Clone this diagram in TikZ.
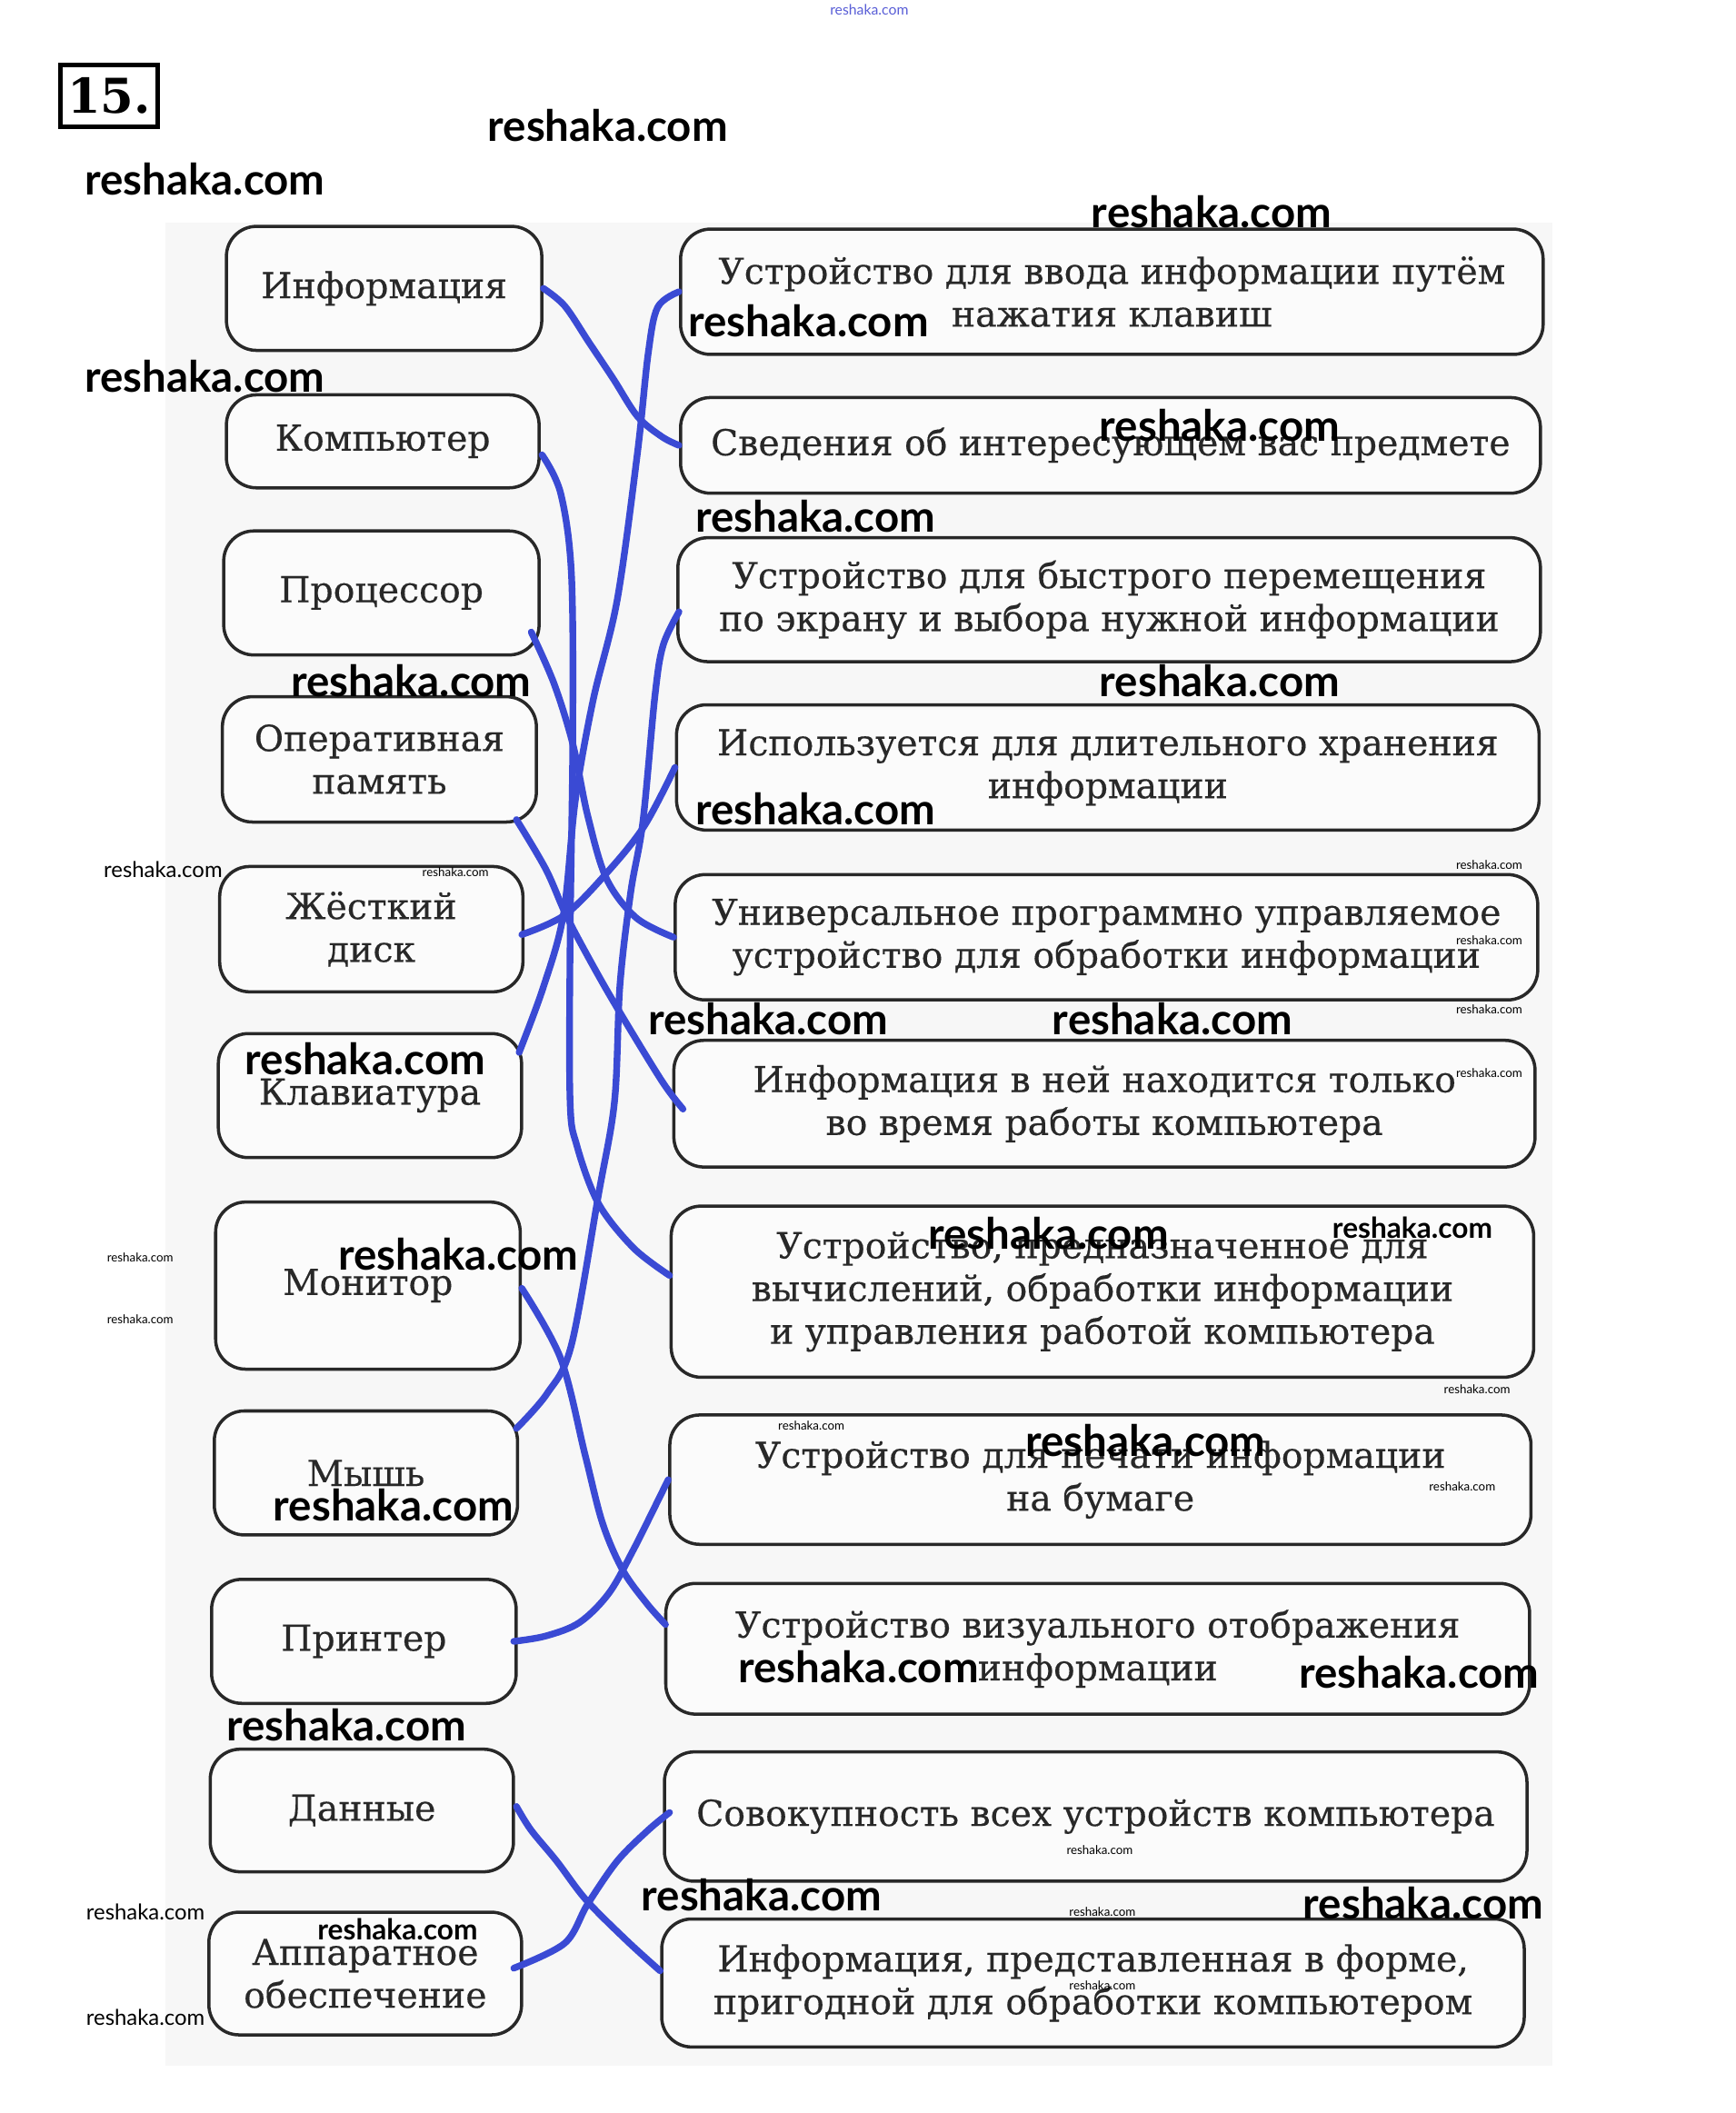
\documentclass[tikz,border=0pt]{standalone}
\usepackage{fontspec}
\setmainfont{DejaVu Serif}
\newfontfamily\cardfont{DejaVu Serif}[FakeBold=0.35]
\newfontfamily\wmfont{Lato}
\usetikzlibrary{calc}
\definecolor{pen}{RGB}{58,74,212}
\definecolor{ink}{RGB}{40,40,40}
\definecolor{paper}{RGB}{247,247,247}
\definecolor{cardfill}{RGB}{251,251,251}
\definecolor{wmblue}{RGB}{90,95,215}
\newdimen\pu \pu=0.014829cm
\tikzset{
  card/.style={rectangle, draw=ink, fill=cardfill, rounded corners=0.33cm,
    line width=1pt, align=center, text=ink, inner sep=0pt,
    font=\cardfont\fontsize{11.2}{13.4}\selectfont},
  link/.style={color=pen, line width=2.1pt, line cap=round, line join=round},
  wmbig/.style={font=\wmfont\bfseries\fontsize{13.5}{14}\selectfont, inner sep=0pt},
  wmmid/.style={font=\wmfont\bfseries\fontsize{9}{10}\selectfont, inner sep=0pt},
  wmsmall/.style={font=\wmfont\fontsize{6.8}{7}\selectfont, inner sep=0pt},
  wmtiny/.style={font=\wmfont\fontsize{3.8}{4}\selectfont, inner sep=0pt}
}
\begin{document}
\begin{tikzpicture}[x=0.014829cm, y=-0.014829cm]
  \useasboundingbox (0,0) rectangle (1288,1568);
  % Page
  \fill[white] (0,0) rectangle (1288,1568);
  \fill[paper] (123,165) rectangle (1152,1533);
  % Task number
  \node[draw=black, line width=1.4pt, minimum width=72\pu, minimum height=46\pu,
    inner sep=0pt, font=\bfseries\fontsize{15}{16}\selectfont] (num) at (81,71) {15.};
  % Left column
  \node[card, minimum width=234\pu, minimum height=92\pu] (l1) at (285,214) {Информация};
  \node[card, minimum width=232\pu, minimum height=69\pu] (l2) at (284,327.5) {Компьютер};
  \node[card, minimum width=234\pu, minimum height=92\pu] (l3) at (283,440) {Процессор};
  \node[card, minimum width=233\pu, minimum height=93\pu] (l4) at (281.5,563.5) {Оперативная\\память};
  \node[card, minimum width=225\pu, minimum height=93\pu] (l5) at (275.5,689.5) {Жёсткий\\диск};
  \node[card, minimum width=225\pu, minimum height=92\pu] (l6) at (274.5,813) {Клавиатура};
  \node[card, minimum width=226\pu, minimum height=124\pu] (l7) at (273,954) {Монитор};
  \node[card, minimum width=225\pu, minimum height=92\pu] (l8) at (271.5,1093) {Мышь};
  \node[card, minimum width=226\pu, minimum height=92\pu] (l9) at (270,1218) {Принтер};
  \node[card, minimum width=225\pu, minimum height=91\pu] (l10) at (268.5,1343.5) {Данные};
  \node[card, minimum width=232\pu, minimum height=91\pu] (l11) at (271,1464.5) {Аппаратное\\обеспечение};
  % Right column
  \node[card, minimum width=640\pu, minimum height=93\pu] (r1) at (825,216.5)
    {Устройство для ввода информации путём\\нажатия клавиш};
  \node[card, minimum width=638\pu, minimum height=71\pu] (r2) at (824,330.5)
    {Сведения об интересующем вас предмете};
  \node[card, minimum width=640\pu, minimum height=92\pu] (r3) at (823,445)
    {Устройство для быстрого перемещения\\по экрану и выбора нужной информации};
  \node[card, minimum width=640\pu, minimum height=93\pu] (r4) at (822,569.5)
    {Используется для длительного хранения\\информации};
  \node[card, minimum width=640\pu, minimum height=93\pu] (r5) at (821,695.5)
    {Универсальное программно управляемое\\устройство для обработки информации};
  \node[card, minimum width=639\pu, minimum height=94\pu] (r6) at (819.5,819)
    {Информация в ней находится только\\во время работы компьютера};
  \node[card, minimum width=640\pu, minimum height=127\pu] (r7) at (818,958.5)
    {Устройство, предназначенное для\\вычислений, обработки информации\\и управления работой компьютера};
  \node[card, minimum width=639\pu, minimum height=96\pu] (r8) at (816.5,1098)
    {Устройство для печати информации\\на бумаге};
  \node[card, minimum width=641\pu, minimum height=97\pu] (r9) at (814.5,1223.5)
    {Устройство визуального отображения\\информации};
  \node[card, minimum width=640\pu, minimum height=96\pu] (r10) at (813,1348)
    {Совокупность всех устройств компьютера};
  \node[card, minimum width=640\pu, minimum height=95\pu] (r11) at (811,1471.5)
    {Информация, представленная в форме,\\пригодной для обработки компьютером};
  % Hand-drawn answers
  \draw[link] plot[smooth, tension=0.55] coordinates {(l1.east) (419,227) (437,254) (455,281) (473,309) (491,324) (r2.west)};
  \draw[link] plot[smooth, tension=0.55] coordinates {($(l2.east)+(1,10)$) (416,366) (424,426) (425,546) (423,700) (423,817) (428,850) (444,893) (470,926) ($(r7.west)+(0,-12)$)};
  \draw[link] plot[smooth, tension=0.55] coordinates {($(l3.east)+(-7,29)$) (411,507) (425,552) (436,605) (450,652) (472,681) (r5.west)};
  \draw[link] plot[smooth, tension=0.55] coordinates {($(l4.south east)+(-16,-3)$) (405,645) (420,679) (438,713) (458,748) (491,802) ($(r6.west)+(8,4)$)};
  \draw[link] plot[smooth, tension=0.55] coordinates {($(l5.east)+(-2,4)$) (419,679) (450,648) (478,613) (r4.west)};
  \draw[link] plot[smooth, tension=0.55] coordinates {($(l6.east)+(-3,-32)$) (403,733) (418,679) (427,593) (440,520) (458,445) (473,336) (481,262) (488,228) (r1.west)};
  \draw[link] plot[smooth, tension=0.55] coordinates {($(l8.east)+(-2,-33)$) (406,1034) (424,998) (444,887) (456,817) (460,731) (468,662) (477,610) (486,516) (492,479) ($(r3.west)+(2,9)$)};
  \draw[link] plot[smooth, tension=0.55] coordinates {($(l7.east)+(0,2)$) (416,1008) (434,1079) (447,1130) (462,1165) (480,1190) ($(r9.west)+(1,-18)$)};
  \draw[link] plot[smooth, tension=0.55] coordinates {($(l9.east)+(-3,0)$) (405,1214) (430,1204) (452,1182) (470,1150) (485,1120) (r8.west)};
  \draw[link] plot[smooth, tension=0.55] coordinates {($(l10.east)+(1,-3)$) (394,1358) (413,1381) (435,1410) (465,1440) ($(r11.west)+(0,-9)$)};
  \draw[link] plot[smooth, tension=0.55] coordinates {($(l11.east)+(-7,-4)$) (419,1442) (436,1413) (458,1381) (481,1358) ($(r10.west)+(5,-3)$)};
  % Watermarks
  \node[font=\wmfont\fontsize{4.5}{5}\selectfont, text=wmblue, inner sep=0pt] (wm0) at (645,7) {reshaka.com};
  \foreach \px/\py [count=\i] in {451/93, 152/133, 899/157, 600/238, 152/279, 905/316,
      605/383, 305/505, 905/505, 605/600, 570/756, 870/756, 271/786, 778/915,
      340/931, 850/1069, 292/1117, 637/1237, 1053/1241, 257/1280, 565/1406, 1056/1412}
    \node[wmbig] (wmb\i) at (\px,\py) {reshaka.com};
  \foreach \px/\py [count=\i] in {1048/911, 295/1432}
    \node[wmmid] (wmm\i) at (\px,\py) {reshaka.com};
  \foreach \px/\py [count=\i] in {121/645, 108/1419, 108/1497}
    \node[wmsmall] (wms\i) at (\px,\py) {reshaka.com};
  \foreach \px/\py [count=\i] in {1105/642, 1105/698, 1105/749, 1105/796, 1096/1031,
      602/1058, 1085/1103, 816/1373, 818/1419, 818/1473, 104/933, 104/979, 338/647}
    \node[wmtiny] (wmt\i) at (\px,\py) {reshaka.com};
\end{tikzpicture}
\end{document}
